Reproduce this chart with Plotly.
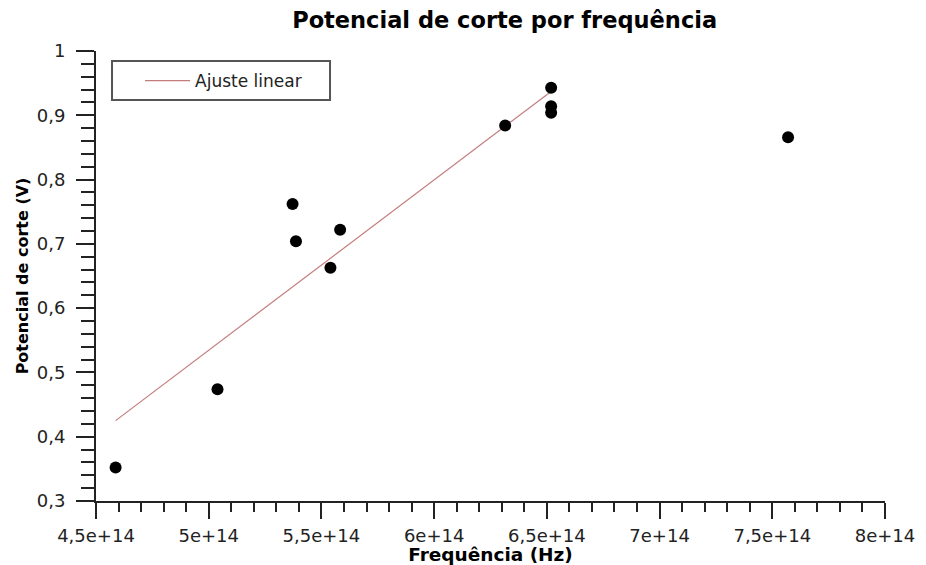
import plotly.graph_objects as go

# Measured data (frequency in Hz, stopping potential in V)
freq = [4.587e14, 5.039e14, 5.372e14, 5.387e14, 5.540e14, 5.583e14,
        6.315e14, 6.519e14, 6.519e14, 6.519e14, 7.570e14]
volt = [0.352, 0.474, 0.762, 0.704, 0.663, 0.722,
        0.884, 0.943, 0.914, 0.904, 0.866]

# Linear fit line endpoints
fit_x = [4.587e14, 6.519e14]
fit_y = [0.425, 0.937]

x_tickvals = [4.5e14, 5e14, 5.5e14, 6e14, 6.5e14, 7e14, 7.5e14, 8e14]
x_ticktext = ["4,5e+14", "5e+14", "5,5e+14", "6e+14", "6,5e+14", "7e+14", "7,5e+14", "8e+14"]
y_tickvals = [0.3, 0.4, 0.5, 0.6, 0.7, 0.8, 0.9, 1.0]
y_ticktext = ["0,3", "0,4", "0,5", "0,6", "0,7", "0,8", "0,9", "1"]

FONT = "DejaVu Sans"
AX = "#222222"

fig = go.Figure()
fig.add_trace(go.Scatter(
    x=fit_x, y=fit_y, mode="lines", name="Ajuste linear",
    line=dict(color="#c47c7c", width=1.2),
))
fig.add_trace(go.Scatter(
    x=freq, y=volt, mode="markers", showlegend=False,
    marker=dict(color="black", size=12),
))

# legend frame
fig.add_shape(type="rect", xref="paper", yref="paper",
              x0=0.0203, x1=0.2966, y0=0.891, y1=0.978,
              line=dict(color="#555555", width=2), fillcolor="rgba(0,0,0,0)")

fig.update_layout(
    width=918, height=557,
    paper_bgcolor="white", plot_bgcolor="white",
    margin=dict(l=88, r=41, t=43, b=64),
    title=dict(text="<b>Potencial de corte por frequência</b>",
               x=0.541, xanchor="center", y=0.978, yanchor="middle",
               font=dict(family=FONT, size=22.5, color="black")),
    font=dict(family=FONT, size=18, color="#222"),
    showlegend=True,
    legend=dict(x=0.0558, y=0.933, xanchor="left", yanchor="middle",
                bgcolor="rgba(0,0,0,0)", borderwidth=0,
                font=dict(family=FONT, size=17, color="#222"),
                itemwidth=45),
    xaxis=dict(
        range=[4.5e14, 8e14], showgrid=False, zeroline=False,
        showline=True, linecolor=AX, linewidth=2, automargin=False,
        tickmode="array", tickvals=x_tickvals, ticktext=x_ticktext,
        ticks="outside", ticklen=16, tickwidth=2, tickcolor=AX,
        ticklabelstandoff=1, tickfont=dict(family=FONT, size=18, color="#222"),
        minor=dict(dtick=1e13, ticks="outside", ticklen=9, tickwidth=2, tickcolor=AX, showgrid=False),
        title=dict(text="<b>Frequência (Hz)</b>", standoff=0,
                   font=dict(family=FONT, size=18.5, color="black")),
    ),
    yaxis=dict(
        range=[0.3, 1.0], showgrid=False, zeroline=False,
        showline=True, linecolor=AX, linewidth=2, automargin=False,
        tickmode="array", tickvals=y_tickvals, ticktext=y_ticktext,
        ticks="outside", ticklen=18, tickwidth=2, tickcolor=AX,
        ticklabelstandoff=7, tickfont=dict(family=FONT, size=18, color="#222"),
        minor=dict(dtick=0.02, ticks="outside", ticklen=13, tickwidth=2, tickcolor=AX, showgrid=False),
        title=dict(text="<b>Potencial de corte (V)</b>", standoff=4,
                   font=dict(family=FONT, size=16, color="black")),
    ),
    separators=",.",
)

fig.write_html("out.html")
